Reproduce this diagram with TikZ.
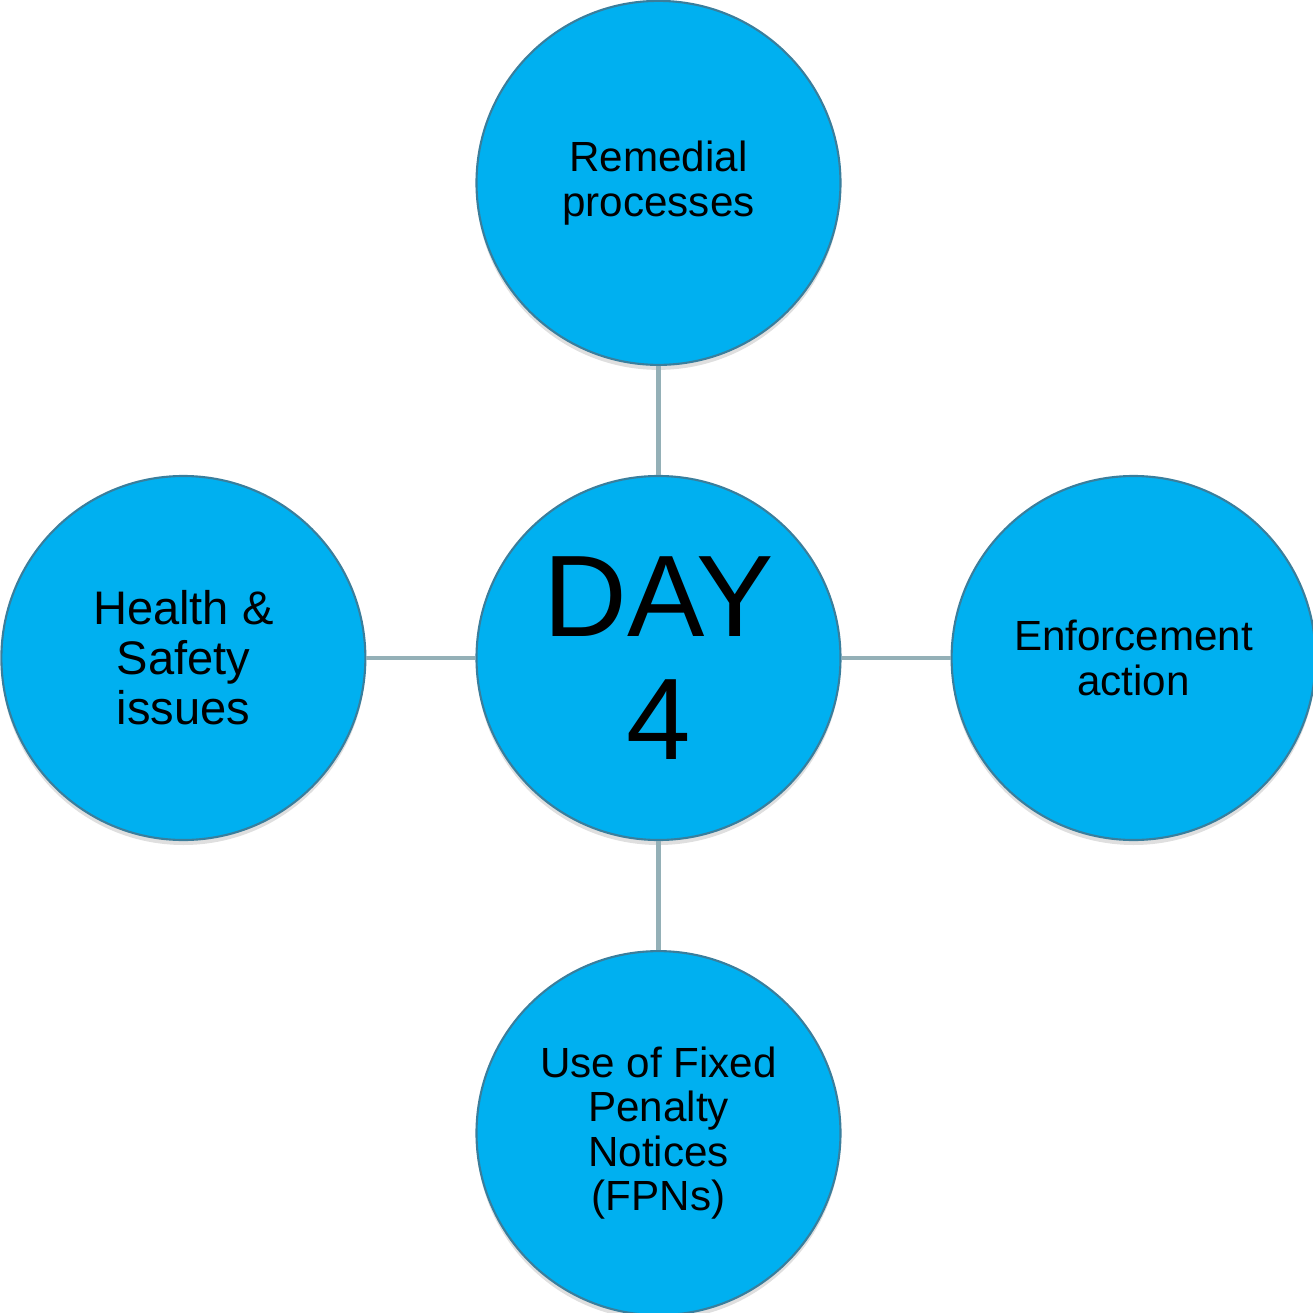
\documentclass[tikz,border=0pt]{standalone}
\usepackage{fontspec}
\setmainfont{Liberation Sans}
\usetikzlibrary{positioning,shadows}
\definecolor{daycyan}{HTML}{00B0F0}
\definecolor{daylink}{HTML}{94B0B7}
\definecolor{dayrim}{HTML}{3A7E9C}
\begin{document}
\begin{tikzpicture}[
  topic/.style={circle,fill=daycyan,draw=dayrim,line width=0.6pt,
    minimum size=3.64cm,inner sep=0pt,align=center,
    font=\fontsize{12}{12.7}\selectfont,
    drop shadow={opacity=0.25,shadow xshift=0pt,shadow yshift=-0.05cm}},
  link/.style={draw=daylink,line width=1.15pt}]
\useasboundingbox (-6.585,-6.55) rectangle (6.545,6.58);
\node[topic,font=\fontsize{33}{35}\selectfont] (day) at (0,0) {DAY\\4};
\node[topic] (remedial) [above=1.09cm of day] {Remedial\\processes};
\node[topic] (enforce) [right=1.09cm of day] {Enforcement\\action};
\node[topic] (fpn) [below=1.09cm of day] {Use of Fixed\\Penalty\\Notices\\(FPNs)};
\node[topic,font=\fontsize{13.4}{14.2}\selectfont] (health) [left=1.09cm of day] {Health \&\\Safety\\issues};
\draw[link] (day) -- (remedial);
\draw[link] (day) -- (enforce);
\draw[link] (day) -- (fpn);
\draw[link] (day) -- (health);
\end{tikzpicture}
\end{document}
